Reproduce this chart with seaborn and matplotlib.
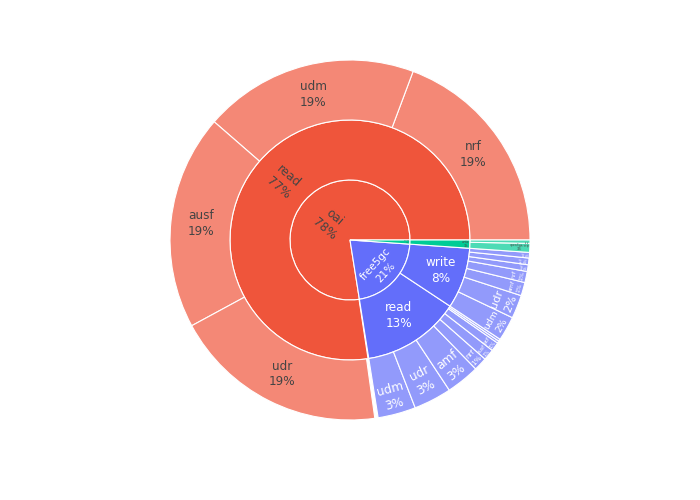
import numpy as np
import matplotlib
matplotlib.use("Agg")
import matplotlib.pyplot as plt
from matplotlib.font_manager import FontProperties
import seaborn as sns

# calls per network function: core -> operation -> NF (1000 calls in total)
cores = ["oai", "free5gc", "open5gs"]
core_calls = [775, 214, 11]

oai_ops = ["read"]
oai_op_calls = [774]
free5gc_ops = ["read", "write"]
free5gc_op_calls = [132, 82]
open5gs_ops = ["write"]
open5gs_op_calls = [11]

oai_read_nfs = ["nrf", "udm", "ausf", "udr"]
oai_read_calls = [193, 193, 193, 193]
free5gc_read_nfs = ["udm", "udr", "amf", "nrf", "ausf", "pcf", "smf", "nssf"]
free5gc_read_calls = [34, 34, 30, 12, 10, 8, 2, 2]
free5gc_write_nfs = ["udm", "udr", "amf", "nrf", "ausf", "pcf", "smf"]
free5gc_write_calls = [22, 21, 12, 10, 6, 6, 5]
open5gs_write_nfs = ["open5gs-scp", "nrf"]
open5gs_write_calls = [8, 3]

sns.set_theme(style="white")
plt.rcParams['font.family'] = ['DejaVu Sans']
palette = sns.color_palette(["#EF553B", "#636EFA", "#00CC96"])

tree = [
    (cores[0], core_calls[0], [(oai_ops[0], oai_op_calls[0], list(zip(oai_read_nfs, oai_read_calls)))]),
    (cores[1], core_calls[1], [(free5gc_ops[0], free5gc_op_calls[0], list(zip(free5gc_read_nfs, free5gc_read_calls))),
                               (free5gc_ops[1], free5gc_op_calls[1], list(zip(free5gc_write_nfs, free5gc_write_calls)))]),
    (cores[2], core_calls[2], [(open5gs_ops[0], open5gs_op_calls[0], list(zip(open5gs_write_nfs, open5gs_write_calls)))]),
]
total = sum(core_calls)

# one list of (label, value, color) per ring, None label = empty remainder
rings = [[], [], []]
for (core, cval, ops), col in zip(tree, palette):
    rings[0].append((core, cval, col))
    used = 0
    for op, oval, nfs in ops:
        rings[1].append((op, oval, col))
        for nf, nval in nfs:
            rings[2].append((nf, nval, col))
        rem = oval - sum(v for _, v in nfs)
        if rem:
            rings[2].append((None, rem, None))
        used += oval
    if cval - used:
        rings[1].append((None, cval - used, None))
        rings[2].append((None, cval - used, None))

fig = plt.figure(figsize=(7, 5), dpi=100)
ax = fig.add_axes([0, 0, 1, 1])
cx, cy, dr = 350, 260, 60
FS = 12          # px
TEXTPAD = 3
renderer = fig.canvas.get_renderer()
prop = FontProperties(family="DejaVu Sans", size=FS * 0.72)


def fade(c):
    return tuple(0.7 * np.array(c) + 0.3)


def text_color(c):
    r, g, b = [255 * v for v in c]
    return "#444444" if (r * 299 + g * 587 + b * 114) / 1000 >= 128 else "white"


def pct(v):
    return "%d%%" % int(np.floor(100 * v / total + 0.5))


def max_half(a, half, r, ring):
    q = a + 1 / (2 * np.tan(half))
    return r * min(1 / (np.sqrt(q * q + 0.5) + q), ring / (np.sqrt(a * a + ring / 2) + a))


def calc_rotate(t):
    return (np.degrees(t) + 720) % 180 - 90


def inside_transform(w, h, x0, x1, r0, r1):
    # plotly's 'auto' inside text orientation
    ring = 1 - r0 / r1
    delta = (x1 - x0 + np.pi) % (2 * np.pi) - np.pi
    half = 0.5 * min(delta or np.pi, np.pi)
    mid = np.pi / 2 - (x0 + x1) / 2
    if r0 == 0 and abs(x1 - x0 - 2 * np.pi) < 1e-9:
        rins = 1
    else:
        rins = max(0, min(1 / (1 + 1 / np.sin(half)), ring / 2))
    cands = []
    hs = rins * r1 * 2 / np.hypot(w, h)
    cands.append((hs, 1 - rins, 0))
    if hs >= 1:
        return cands[0]
    rr = max(0, r1 - 2 * TEXTPAD)
    a = w / h
    s = max_half(a, half, rr, ring)
    cands.append((2 * s / h, np.cos(s / rr) - a * s / rr, calc_rotate(mid)))
    a = h / w
    s = max_half(a, half, rr, ring)
    cands.append((2 * s / w, np.cos(s / rr) - a * s / rr, calc_rotate(mid + np.pi / 2)))
    best = cands[0]
    for cnd in cands[1:]:
        if cnd[0] > best[0]:
            best = cnd
    return best


for k, ring in enumerate(rings):
    leaf = k == 2
    vals = [v / total for _, v, _ in ring]
    cols = [(1, 1, 1, 0) if c is None else (fade(c) if leaf else c) for _, _, c in ring]
    wedges, _ = ax.pie(vals, radius=dr * (k + 1), center=(cx, cy), startangle=0,
                       counterclock=True, normalize=False, colors=cols,
                       wedgeprops=dict(width=dr, edgecolor="white", linewidth=0.8))
    for wdg, (lab, v, c) in zip(wedges, ring):
        if lab is None:
            wdg.set_visible(False)
            continue
        lines = [lab, pct(v)]
        w = max(renderer.get_text_width_height_descent(s, prop, ismath=False)[0] for s in lines)
        h = FS * (1.3 * (len(lines) - 1) + 1.17)
        x0, x1 = np.radians(wdg.theta1), np.radians(wdg.theta2)
        r1 = dr * (k + 1)
        scale, rc, rot = inside_transform(w, h, x0, x1, r1 - dr, r1)
        scale = min(1, scale)
        if scale <= 0:
            continue
        xm = (x0 + x1) / 2
        tx = cx + r1 * rc * np.cos(xm)
        ty = cy + r1 * rc * np.sin(xm)
        phi = np.radians(-rot)
        down = np.array([np.sin(phi), -np.cos(phi)])
        fs = FS * scale
        for i, s in enumerate(lines):
            off = (i - (len(lines) - 1) / 2) * 1.3 * fs
            ax.text(tx + off * down[0], ty + off * down[1], s, rotation=-rot,
                    rotation_mode="anchor", ha="center", va="center",
                    fontsize=fs * 0.72, color=text_color(c), family="DejaVu Sans")

ax.set_xlim(0, 700)
ax.set_ylim(0, 500)
ax.set_aspect("equal")
ax.axis("off")
fig.savefig("out.png", dpi=100)
